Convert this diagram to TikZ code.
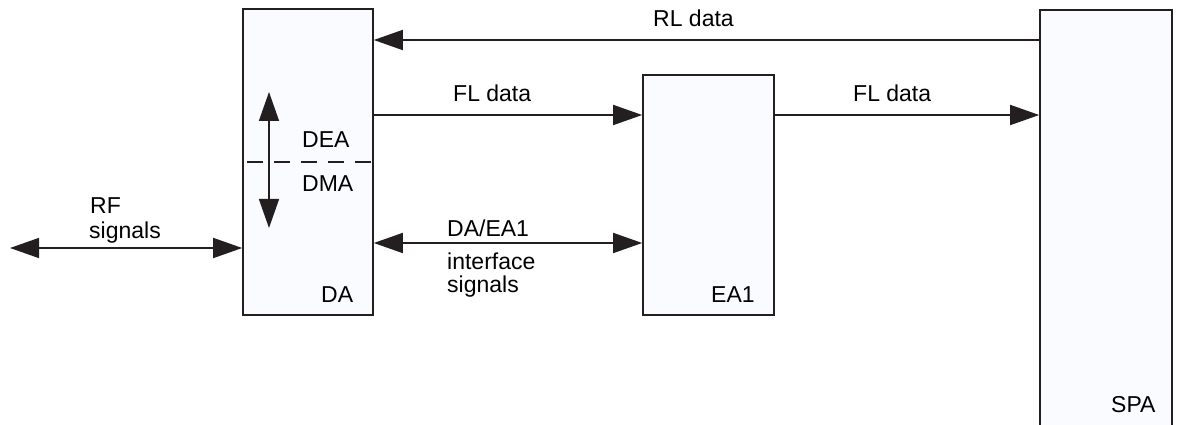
\documentclass[tikz,border=0pt]{standalone}
\usepackage{fontspec}
\setmainfont{Liberation Sans}
\usetikzlibrary{arrows.meta}
\definecolor{ink}{HTML}{231F20}
\definecolor{boxfill}{HTML}{FAFBFE}
\begin{document}
\begin{tikzpicture}[x=1pt,y=-1pt,
  box/.style={draw=ink,fill=boxfill,line width=1.6pt,rectangle,inner sep=0pt},
  arr/.style={draw=ink,line width=1.6pt,-{Triangle[length=29pt,width=20pt]}},
  darr/.style={draw=ink,line width=1.6pt,{Triangle[length=29pt,width=20pt]}-{Triangle[length=29pt,width=20pt]}},
  lbl/.style={anchor=base west,inner sep=0pt,text=black,font=\fontsize{23}{27}\selectfont}]
\useasboundingbox (0,0) rectangle (1184,425);
\clip (0,0) rectangle (1184,425);
% boxes
\node[box,minimum width=130pt,minimum height=306pt] (DA) at (308,162) {};
\node[box,minimum width=131pt,minimum height=240pt] (EA1) at (708.5,195) {};
\node[box,minimum width=132pt,minimum height=430pt] (SPA) at (1106,225) {};
% helper coordinates
\coordinate (yRL) at (0,40);
\coordinate (yFL) at (0,115);
\coordinate (yIF) at (0,243);
\coordinate (yRF) at (0,248);
\coordinate (rfend) at (10,248);
\coordinate (vtop) at (269,92);
\coordinate (vbot) at (269,228);
\coordinate (dl) at (247,162);
% connectors
\draw[arr] (SPA.west |- yRL) -- (DA.east |- yRL);
\draw[arr] (DA.east |- yFL) -- (EA1.west |- yFL);
\draw[arr] (EA1.east |- yFL) -- (SPA.west |- yFL);
\draw[darr] (DA.east |- yIF) -- (EA1.west |- yIF);
\draw[darr] (rfend) -- (DA.west |- yRF);
\draw[darr] (vtop) -- (vbot);
\draw[ink,line width=1.4pt,dash pattern=on 16pt off 11pt] (dl) -- (DA.east |- dl);
% labels
\node[lbl] (tRL) at (653,27) {RL data};
\node[lbl] (tFL1) at (453,102) {FL data};
\node[lbl] (tFL2) at (853,102) {FL data};
\node[lbl] (tIF1) at (447,236) {DA/EA1};
\node[lbl] (tIF2) at (447,269) {interface};
\node[lbl] (tIF3) at (447,292) {signals};
\node[lbl] (tRF1) at (90,213) {RF};
\node[lbl] (tRF2) at (89,238) {signals};
\node[lbl] (tDEA) at (302,148) {DEA};
\node[lbl] (tDMA) at (302,191) {DMA};
\node[lbl] (tDA) at (321,302) {DA};
\node[lbl] (tEA1) at (711,302) {EA1};
\node[lbl] (tSPA) at (1111,412) {SPA};
\end{tikzpicture}
\end{document}
